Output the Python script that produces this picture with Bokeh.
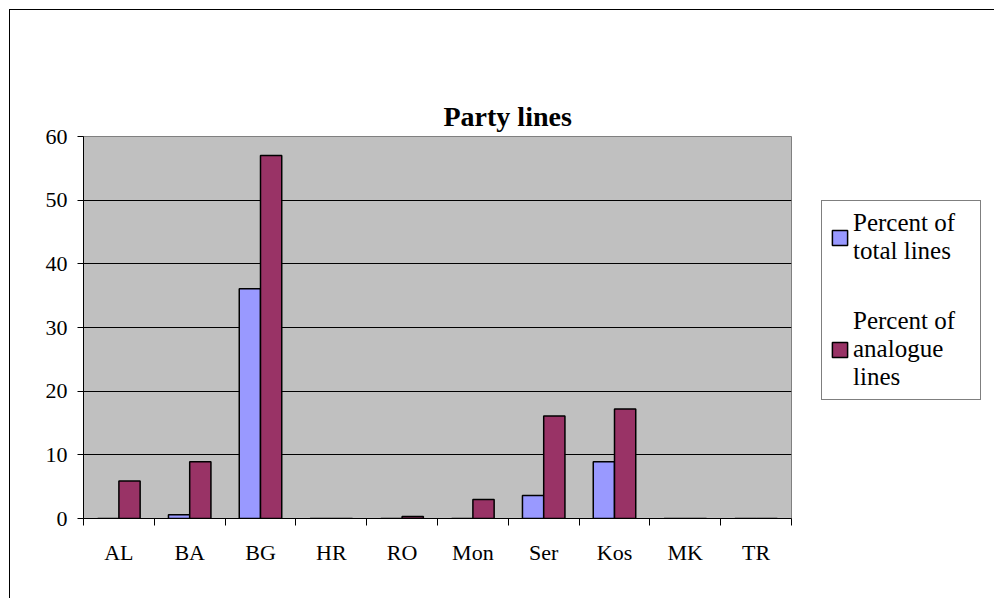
from bokeh.plotting import figure
from bokeh.models import ColumnDataSource, FixedTicker, Legend, LegendItem, Title
from bokeh.embed import file_html
from bokeh.resources import INLINE

# Share of party lines per country
categories = ["AL", "BA", "BG", "HR", "RO", "Mon", "Ser", "Kos", "MK", "TR"]
pct_total = [0, 0.6, 36.1, 0, 0, 0, 3.6, 8.9, 0, 0]
pct_analogue = [5.9, 8.9, 57.0, 0, 0.3, 3.0, 16.1, 17.2, 0, 0]
y_ticks = [0, 10, 20, 30, 40, 50, 60]

FONT = "Liberation Serif"
BLUE = "#9999FF"
PLUM = "#993366"
BAR_W = 0.3

centers = [i + 0.5 for i in range(len(categories))]
src = ColumnDataSource(dict(
    cat=categories,
    x_total=[c - BAR_W / 2 for c in centers],
    x_analogue=[c + BAR_W / 2 for c in centers],
    total=pct_total,
    analogue=pct_analogue,
))

p = figure(frame_width=708, frame_height=382,
           x_range=(0, len(categories)), y_range=(0, 60),
           output_backend="svg", toolbar_location=None,
           min_border_left=73, min_border_right=203,
           min_border_top=126, min_border_bottom=90)
p.styles = {"border-left": "1px solid black", "border-top": "1px solid black",
            "margin-left": "9px", "margin-top": "9px"}

p.background_fill_color = "#C0C0C0"
p.border_fill_color = "white"
p.outline_line_color = "#808080"
p.outline_line_width = 1

# the built-in title slot sits next to the frame; keep it blank as a spacer
p.title.text = ""
p.title.text_font_size = "1px"
p.title.standoff = 58

# chart title, stacked above the spacer
p.add_layout(Title(text="Party lines", text_font=FONT, text_font_size="28px",
                   text_font_style="bold", text_color="black",
                   align="left", offset=360, standoff=10), "above")

r_total = p.vbar(x="x_total", top="total", width=BAR_W, source=src,
                 fill_color=BLUE, line_color="black", line_width=1.5)
r_analogue = p.vbar(x="x_analogue", top="analogue", width=BAR_W, source=src,
                    fill_color=PLUM, line_color="black", line_width=1.5)

# x axis: labels at category centres, tick marks between categories
xa = p.xaxis[0]
xa.ticker = FixedTicker(ticks=centers, minor_ticks=list(range(len(categories) + 1)))
xa.major_label_overrides = {c: name for c, name in zip(centers, categories)}
xa.major_tick_out = 0
xa.major_tick_in = 0
xa.minor_tick_out = 7
xa.minor_tick_in = 0
xa.minor_tick_line_color = "black"
xa.axis_line_color = "black"
xa.major_label_text_font = FONT
xa.major_label_text_font_size = "22px"
xa.major_label_text_color = "black"
xa.major_label_standoff = 14

ya = p.yaxis[0]
ya.ticker = FixedTicker(ticks=y_ticks)
ya.major_tick_out = 6
ya.major_tick_in = 0
ya.minor_tick_out = 0
ya.minor_tick_in = 0
ya.axis_line_color = "black"
ya.major_label_text_font = FONT
ya.major_label_text_font_size = "22px"
ya.major_label_text_color = "black"
ya.major_label_standoff = 10

p.xgrid.grid_line_color = None
p.ygrid.grid_line_color = "black"
p.ygrid.grid_line_alpha = 1
p.ygrid.grid_line_width = 1

legend = Legend(items=[
    LegendItem(label="Percent of\ntotal lines", renderers=[r_total]),
    LegendItem(label="Percent of\nanalogue\nlines", renderers=[r_analogue]),
], location=(30, 118), orientation="vertical")
legend.label_text_font = FONT
legend.label_text_font_size = "25px"
legend.label_text_color = "black"
legend.label_text_line_height = 1.36
legend.label_width = 119
legend.glyph_width = 19
legend.glyph_height = 19
legend.label_standoff = 4
legend.padding = 8
legend.spacing = 42
legend.border_line_color = "black"
legend.border_line_width = 1
legend.background_fill_color = "white"
legend.background_fill_alpha = 1
p.add_layout(legend, "right")

open("out.html", "w").write(file_html(p, INLINE))
